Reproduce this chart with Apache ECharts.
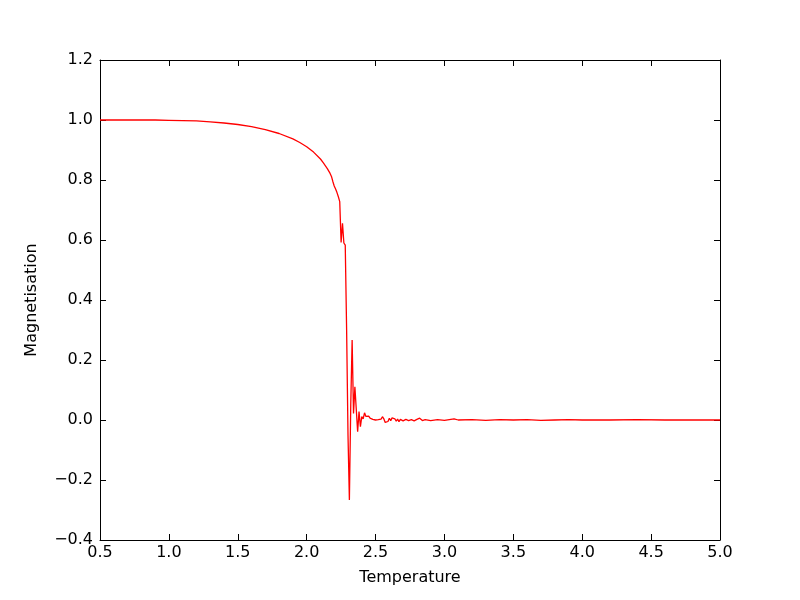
<!DOCTYPE html>
<html>
<head>
<meta charset="utf-8">
<script src="https://cdn.jsdelivr.net/npm/echarts@6/dist/echarts.min.js"></script>
<style>html,body{margin:0;padding:0;background:#fff;}#c{width:800px;height:600px;}</style>
</head>
<body>
<div id="c"></div>
<script>
const temperature = [0.5,0.6,0.7,0.8,0.9,1.0,1.1,1.2,1.3,1.4,1.5,1.6,1.7,1.8,1.9,1.95,2.0,2.05,2.1,2.12,2.15,2.17,2.18,2.19,2.20,2.21,2.22,2.23,2.24,2.25,2.26,2.27,2.28,2.29,2.30,2.31,2.32,2.33,2.34,2.35,2.36,2.37,2.38,2.39,2.40,2.41,2.42,2.43,2.44,2.45,2.46,2.47,2.48,2.49,2.50,2.51,2.52,2.53,2.54,2.55,2.56,2.57,2.58,2.59,2.60,2.61,2.62,2.63,2.64,2.65,2.66,2.67,2.68,2.69,2.70,2.72,2.74,2.76,2.78,2.80,2.82,2.84,2.86,2.90,2.95,3.00,3.07,3.10,3.20,3.30,3.40,3.50,3.60,3.70,3.80,3.90,4.00,4.20,4.40,4.60,4.80,5.00];
const magnetisation = [1.0,1.0,1.0,1.0,1.0,0.999,0.998,0.997,0.994,0.990,0.985,0.978,0.968,0.955,0.937,0.925,0.911,0.893,0.870,0.858,0.838,0.822,0.812,0.795,0.780,0.770,0.758,0.744,0.728,0.592,0.656,0.590,0.583,0.300,-0.050,-0.267,0.050,0.267,0.022,0.111,0.107,-0.039,0.028,-0.022,0.011,0.004,0.024,0.012,0.009,0.013,0.006,0.008,0.002,0.003,0.000,0.004,0.001,-0.003,0.003,0.011,0.004,-0.008,-0.013,-0.005,0.006,-0.002,0.007,0.001,0.004,-0.004,0.003,-0.006,0.002,0.004,-0.003,0.002,-0.002,0.001,-0.003,0.002,0.006,-0.002,0.001,-0.002,0.001,-0.001,0.004,0.000,0.001,-0.001,0.001,0.000,0.001,-0.001,0.000,0.001,0.000,0.000,0.001,0.000,0.000,0.000];
const xTicks = {min:0.5, max:5.0, interval:0.5};
const yTicks = {min:-0.4, max:1.2, interval:0.2};

const data = temperature.map((t,i)=>[t, magnetisation[i]]);
const fmt = v => v.toFixed(1).replace('-', '\u2212');
const font = 'DejaVu Sans';
const tick = {show:true, inside:true, length:6, lineStyle:{color:'#000', width:1}};
const line = {show:true, onZero:false, lineStyle:{color:'#000', width:1}};

const chart = echarts.init(document.getElementById('c'), null, {renderer:'canvas'});
chart.setOption({
  animation:false,
  backgroundColor:'#fff',
  grid:{left:100, right:80, top:60, bottom:60, containLabel:false},
  xAxis:[
    {type:'value', min:xTicks.min, max:xTicks.max, interval:xTicks.interval, position:'bottom',
     name:'Temperature', nameLocation:'middle', nameGap:30,
     nameTextStyle:{fontFamily:font, fontSize:16, color:'#000'},
     axisLine:line, axisTick:tick, splitLine:{show:false},
     axisLabel:{formatter:fmt, fontFamily:font, fontSize:16, color:'#000', margin:5}},
    {type:'value', min:xTicks.min, max:xTicks.max, interval:xTicks.interval, position:'top',
     axisLine:line, axisTick:tick, splitLine:{show:false}, axisLabel:{show:false}}
  ],
  yAxis:[
    {type:'value', min:yTicks.min, max:yTicks.max, interval:yTicks.interval, position:'left',
     name:'Magnetisation', nameLocation:'middle', nameGap:60,
     nameTextStyle:{fontFamily:font, fontSize:16, color:'#000'},
     axisLine:line, axisTick:tick, splitLine:{show:false},
     axisLabel:{formatter:fmt, fontFamily:font, fontSize:16, color:'#000', margin:7}},
    {type:'value', min:yTicks.min, max:yTicks.max, interval:yTicks.interval, position:'right',
     axisLine:line, axisTick:tick, splitLine:{show:false}, axisLabel:{show:false}}
  ],
  series:[{type:'line', data:data, xAxisIndex:0, yAxisIndex:0, showSymbol:false, symbol:'none',
    lineStyle:{color:'#ff0000', width:1.3}, itemStyle:{color:'#ff0000'}}]
});
</script>
</body>
</html>
